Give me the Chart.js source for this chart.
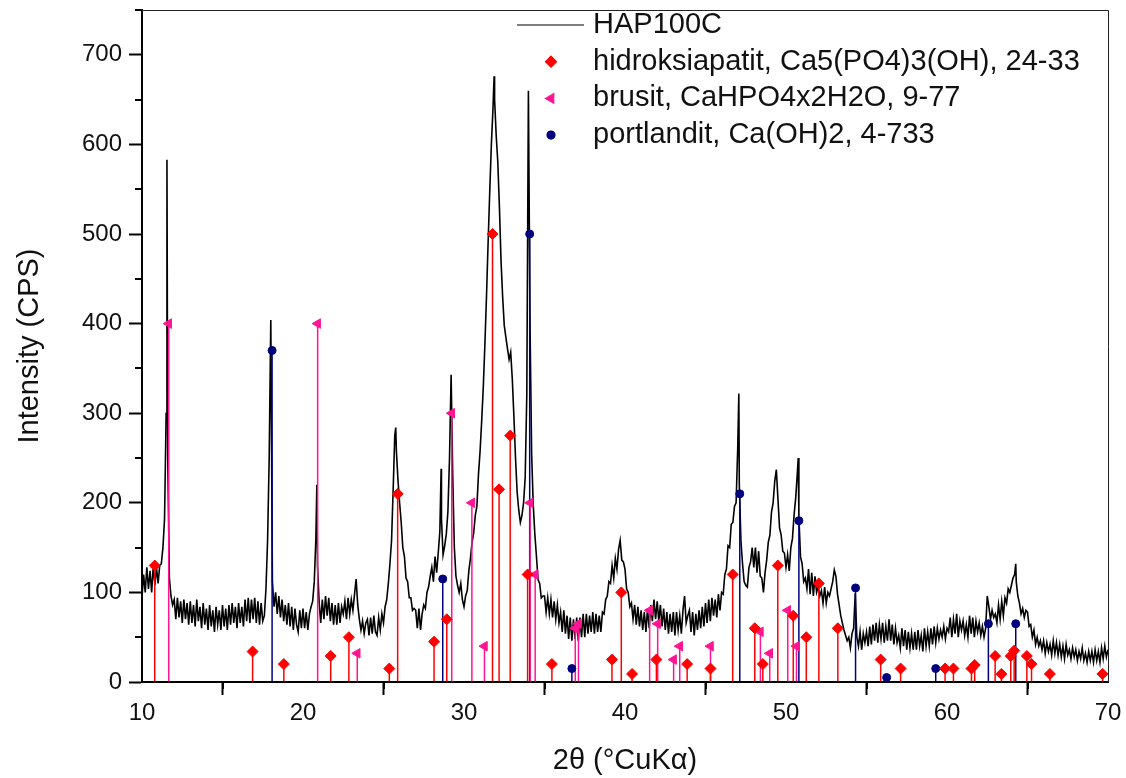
<!DOCTYPE html>
<html lang="tr">
<head>
<meta charset="utf-8">
<title>HAP100C XRD</title>
<script src="https://cdn.jsdelivr.net/npm/chart.js@4.4.1/dist/chart.umd.min.js"></script>
<style>
  html, body { margin: 0; padding: 0; background: #fff; }
  canvas { display: block; }
</style>
</head>
<body>
<canvas id="xrdGrafik" width="1126" height="778"></canvas>
<script>
// Tarama: 2θ = 10 ... 70, adım 0.1 (grafikten okunan sayımlar, CPS)
const taramaBaslangic = 10;
const taramaAdim = 0.1;
const sayimlar = [
    95, 120, 100, 128, 104, 124, 100, 130, 108, 128,   // 10
    110, 130, 132, 150, 182, 300, 250, 116, 96, 86,    // 11
    92, 70, 94, 72, 90, 66, 92, 70, 88, 64,            // 12
    90, 66, 86, 62, 92, 68, 84, 60, 88, 64,            // 13
    82, 58, 86, 62, 80, 56, 84, 64, 80, 58,            // 14
    86, 62, 82, 58, 86, 64, 88, 66, 84, 60,            // 15
    88, 66, 84, 62, 92, 68, 94, 66, 92, 70,            // 16
    94, 66, 90, 64, 88, 68, 74, 104, 158, 250,         // 17
    404, 112, 84, 100, 76, 96, 72, 92, 68, 86,         // 18
    64, 88, 62, 84, 58, 82, 64, 56, 80, 60,            // 19
    82, 60, 78, 58, 76, 84, 90, 112, 160, 130,         // 20
    90, 66, 92, 70, 96, 74, 94, 68, 88, 64,            // 21
    86, 64, 88, 66, 84, 76, 90, 70, 94, 76,            // 22
    92, 80, 98, 115, 86, 70, 58, 68, 54, 66,           // 23
    70, 52, 72, 54, 74, 56, 52, 72, 58, 76,            // 24
    66, 84, 92, 110, 132, 158, 215, 275, 258, 225,     // 25
    200, 178, 150, 140, 116, 112, 94, 94, 80, 82,      // 26
    80, 60, 82, 58, 76, 86, 82, 100, 106, 118,         // 27
    128, 112, 140, 122, 144, 168, 182, 142, 152, 165,  // 28
    190, 250, 343, 230, 150, 118, 108, 100, 110, 92,   // 29
    84, 96, 102, 124, 138, 156, 166, 186, 196, 232,    // 30
    258, 292, 330, 378, 432, 492, 548, 600, 640, 650,  // 31
    610, 580, 530, 470, 430, 398, 385, 372, 360, 368,  // 32
    338, 296, 250, 212, 192, 178, 186, 200, 228, 320,  // 33
    660, 400, 255, 198, 165, 140, 114, 110, 94, 96,    // 34
    96, 78, 94, 76, 92, 72, 90, 70, 86, 66,            // 35
    78, 56, 80, 54, 74, 48, 72, 46, 70, 48,            // 36
    72, 46, 72, 50, 76, 50, 76, 54, 74, 56,            // 37
    78, 54, 76, 56, 74, 56, 78, 76, 92, 96,            // 38
    112, 110, 130, 116, 138, 126, 148, 158, 136, 134,  // 39
    126, 104, 100, 84, 88, 70, 86, 64, 84, 62,         // 40
    80, 58, 78, 56, 82, 60, 86, 68, 92, 70,            // 41
    90, 68, 86, 62, 82, 58, 78, 54, 76, 56,            // 42
    78, 52, 78, 58, 74, 54, 80, 96, 66, 74,            // 43
    80, 56, 78, 52, 76, 58, 80, 60, 84, 62,            // 44
    88, 66, 92, 68, 94, 74, 92, 72, 98, 80,            // 45
    100, 98, 120, 126, 152, 150, 176, 178, 196, 200,   // 46
    260, 220, 158, 132, 112, 108, 106, 128, 134, 150,  // 47
    128, 150, 122, 146, 118, 116, 100, 122, 136, 156,  // 48
    164, 190, 200, 224, 237, 204, 172, 164, 146, 144,  // 49
    128, 142, 124, 150, 160, 186, 205, 232, 185, 140,  // 50
    132, 112, 116, 104, 126, 98, 122, 96, 118, 100,    // 51
    106, 96, 102, 88, 106, 88, 100, 96, 104, 112,      // 52
    125, 118, 98, 86, 74, 66, 58, 52, 46, 50,          // 53
    38, 54, 60, 99, 50, 40, 56, 36, 54, 44,            // 54
    56, 40, 62, 42, 64, 46, 66, 44, 64, 48,            // 55
    66, 44, 62, 46, 70, 46, 64, 42, 60, 44,            // 56
    52, 38, 60, 40, 58, 36, 56, 38, 54, 36,            // 57
    56, 36, 58, 40, 52, 34, 60, 40, 56, 40,            // 58
    60, 42, 62, 44, 60, 48, 58, 50, 62, 48,            // 59
    60, 56, 72, 50, 70, 54, 76, 50, 68, 58,            // 60
    68, 52, 64, 50, 74, 54, 72, 50, 68, 56,            // 61
    66, 52, 62, 50, 60, 96, 84, 70, 80, 72,            // 62
    76, 66, 86, 70, 90, 74, 94, 88, 104, 100,          // 63
    108, 116, 120, 112, 96, 88, 76, 82, 72, 80,        // 64
    78, 62, 64, 50, 58, 42, 50, 40, 46, 36,            // 65
    46, 32, 44, 34, 42, 30, 46, 32, 44, 30,            // 66
    42, 28, 40, 26, 42, 30, 36, 26, 38, 28,            // 67
    36, 24, 34, 26, 38, 24, 32, 22, 34, 24,            // 68
    34, 22, 36, 24, 34, 22, 38, 26, 40, 28,            // 69
    36                                                 // 70
];

// Adımların arasına düşen keskin tepe uçları
const tepeAci    = [11.55, 20.86, 25.76, 28.58, 31.87, 47.07, 50.76, 64.27];
const tepeSiddet = [583, 220, 284, 238, 676, 322, 250, 132];

// Kart çizgileri (2θ ve bağıl şiddet)
const hidroksiapatitAci = [10.79, 16.87, 18.81, 21.72, 22.85, 25.36, 25.88, 28.14, 28.93, 31.77,
    32.18, 32.87, 33.95, 35.46, 39.19, 39.77, 40.44, 41.95, 43.86, 45.31,
    46.69, 48.06, 48.56, 49.49, 50.45, 51.26, 52.04, 53.22, 55.88, 57.12,
    59.88, 60.40, 61.52, 61.72, 62.99, 63.38, 63.96, 64.17, 64.96, 65.25,
    66.39, 69.66];
const hidroksiapatitSiddet = [130, 34, 20, 29, 50, 15, 210, 45, 70, 500,
    215, 275, 120, 20, 25, 100, 9, 25, 20, 15,
    120, 60, 20, 130, 74, 50, 110, 60, 25, 15,
    15, 15, 15, 19, 29, 9, 29, 35, 29, 20,
    9, 9];

const brusitAci = [11.66, 20.91, 23.37, 29.24, 30.49, 31.27, 34.11, 34.42, 36.91, 37.11,
    41.53, 42.03, 43.02, 43.40, 45.31, 48.41, 48.99, 50.11, 50.65];
const brusitSiddet = [400, 400, 32, 300, 200, 40, 200, 120, 60, 65,
    80, 65, 25, 40, 40, 56, 32, 80, 40];

const portlanditAci = [18.08, 28.68, 34.08, 36.70, 47.13, 50.80, 54.32, 56.25, 59.30, 62.57, 64.27];
const portlanditSiddet = [370, 115, 500, 15, 210, 180, 105, 5, 15, 65, 65];

// Eksen işaretleri
const xEtiketler = [10, 20, 30, 40, 50, 60, 70];
const yEtiketler = [0, 100, 200, 300, 400, 500, 600, 700];
const xAraCentik = [15, 25, 35, 45, 55, 65];
const yAraCentik = [50, 150, 250, 350, 450, 550, 650, 750];

const yaziTipi = '"Liberation Sans", Arial, Helvetica, sans-serif';
const yaziRengi = '#111';
Chart.defaults.font.family = yaziTipi;
Chart.defaults.color = yaziRengi;

// Desen noktaları
const desen = sayimlar.map((v, i) => ({ x: +(taramaBaslangic + i * taramaAdim).toFixed(2), y: v }));
tepeAci.forEach((a, i) => desen.push({ x: a, y: tepeSiddet[i] }));
desen.sort((p, q) => p.x - q.x);

function noktalar(acilar, siddetler) {
    return acilar.map((a, i) => ({ x: a, y: siddetler[i] }));
}

// Kart çizgisi (ince çubuk)
function cubukSeti(acilar, siddetler, renk, kalinlik) {
    return {
        type: 'bar',
        data: noktalar(acilar, siddetler),
        backgroundColor: renk,
        borderWidth: 0,
        barThickness: kalinlik,
        inflateAmount: 0,
        grouped: false,
        order: 2
    };
}

// Kart işaretçisi
function isaretSeti(etiket, acilar, siddetler, renk, stil, yaricap, donme) {
    return {
        type: 'scatter',
        label: etiket,
        data: noktalar(acilar, siddetler),
        showLine: false,
        pointStyle: stil,
        pointRadius: yaricap,
        pointRotation: donme,
        pointBackgroundColor: renk,
        pointBorderColor: renk,
        pointBorderWidth: 1,
        backgroundColor: renk,
        borderColor: renk,
        aciklamada: true,
        order: 1
    };
}

const kirmizi = '#ff0000';
const pembe = '#ff1493';
const lacivert = '#00007f';

// Çerçeve ve ara çentikler
const cerceveEklentisi = {
    id: 'cerceve',
    afterDraw(chart) {
        const { ctx, chartArea: a, scales: { x, y } } = chart;
        ctx.save();
        ctx.strokeStyle = '#222';
        ctx.lineWidth = 1;
        ctx.beginPath();
        ctx.moveTo(a.left, a.top + 0.5);
        ctx.lineTo(a.right + 0.5, a.top + 0.5);
        ctx.lineTo(a.right + 0.5, a.bottom);
        ctx.stroke();

        ctx.strokeStyle = '#000';
        ctx.lineWidth = 2;
        ctx.beginPath();
        xAraCentik.forEach(v => {
            const px = Math.round(x.getPixelForValue(v));
            ctx.moveTo(px, a.bottom);
            ctx.lineTo(px, a.bottom + 7);
        });
        yAraCentik.forEach(v => {
            const py = Math.round(y.getPixelForValue(v));
            ctx.moveTo(a.left, py);
            ctx.lineTo(a.left - 7, py);
        });
        ctx.stroke();
        ctx.restore();
    }
};

// Grafik içindeki açıklama kutusu
const aciklamaEklentisi = {
    id: 'aciklama',
    afterDraw(chart) {
        const ctx = chart.ctx;
        ctx.save();
        ctx.font = '29px ' + yaziTipi;
        ctx.textBaseline = 'middle';
        ctx.textAlign = 'left';
        chart.data.datasets.filter(d => d.aciklamada).forEach((d, i) => {
            const yy = 25 + i * 36.7;
            if (d.type === 'line') {
                ctx.strokeStyle = d.borderColor;
                ctx.lineWidth = 1.2;
                ctx.beginPath();
                ctx.moveTo(517, yy);
                ctx.lineTo(584, yy);
                ctx.stroke();
            } else {
                ctx.fillStyle = d.pointBackgroundColor;
                ctx.strokeStyle = d.pointBorderColor;
                Chart.helpers.drawPoint(ctx, {
                    pointStyle: d.pointStyle,
                    radius: d.pointRadius,
                    rotation: d.pointRotation,
                    borderWidth: 1
                }, 551, yy);
            }
            ctx.fillStyle = yaziRengi;
            ctx.fillText(d.label, 593, yy);
        });
        ctx.restore();
    }
};

new Chart(document.getElementById('xrdGrafik'), {
    type: 'scatter',
    data: {
        datasets: [
            {
                type: 'line',
                label: 'HAP100C',
                data: desen,
                borderColor: '#000',
                borderWidth: 1.6,
                pointRadius: 0,
                tension: 0,
                aciklamada: true,
                order: 3
            },
            isaretSeti('hidroksiapatit, Ca5(PO4)3(OH), 24-33', hidroksiapatitAci, hidroksiapatitSiddet, kirmizi, 'rectRot', 5.5, 0),
            isaretSeti('brusit, CaHPO4x2H2O, 9-77', brusitAci, brusitSiddet, pembe, 'triangle', 5.5, -90),
            isaretSeti('portlandit, Ca(OH)2, 4-733', portlanditAci, portlanditSiddet, lacivert, 'circle', 4, 0),
            cubukSeti(hidroksiapatitAci, hidroksiapatitSiddet, kirmizi, 1.5),
            cubukSeti(brusitAci, brusitSiddet, pembe, 1.5),
            cubukSeti(portlanditAci, portlanditSiddet, lacivert, 1.5)
        ]
    },
    options: {
        responsive: false,
        animation: false,
        events: [],
        layout: { padding: { left: 0, top: 10, right: 18, bottom: 0 } },
        plugins: {
            legend: { display: false },
            tooltip: { enabled: false }
        },
        scales: {
            x: {
                type: 'linear',
                min: 10,
                max: 70,
                offset: false,
                afterBuildTicks: s => { s.ticks = xEtiketler.map(v => ({ value: v })); },
                afterFit: s => { s.height = 96; },
                grid: { drawOnChartArea: false, tickLength: 13, tickWidth: 2, tickColor: '#000' },
                border: { color: '#000', width: 2 },
                ticks: { padding: 4, maxRotation: 0, font: { size: 24 }, color: yaziRengi },
                title: {
                    display: true,
                    text: '2θ (°CuKα)',
                    font: { size: 29, lineHeight: 1 },
                    color: yaziRengi,
                    padding: { top: 0, bottom: 3 }
                }
            },
            y: {
                type: 'linear',
                min: 0,
                max: 750,
                afterBuildTicks: s => { s.ticks = yEtiketler.map(v => ({ value: v })); },
                afterFit: s => { s.width = 142; s.paddingTop = 0; s.paddingBottom = 0; },
                grid: { drawOnChartArea: false, tickLength: 13, tickWidth: 2, tickColor: '#000' },
                border: { color: '#000', width: 2 },
                ticks: { padding: 7, font: { size: 24 }, color: yaziRengi },
                title: {
                    display: true,
                    text: 'Intensity (CPS)',
                    font: { size: 29, lineHeight: 1 },
                    color: yaziRengi,
                    padding: { top: 15, bottom: 0 }
                }
            }
        }
    },
    plugins: [cerceveEklentisi, aciklamaEklentisi]
});
</script>
</body>
</html>
